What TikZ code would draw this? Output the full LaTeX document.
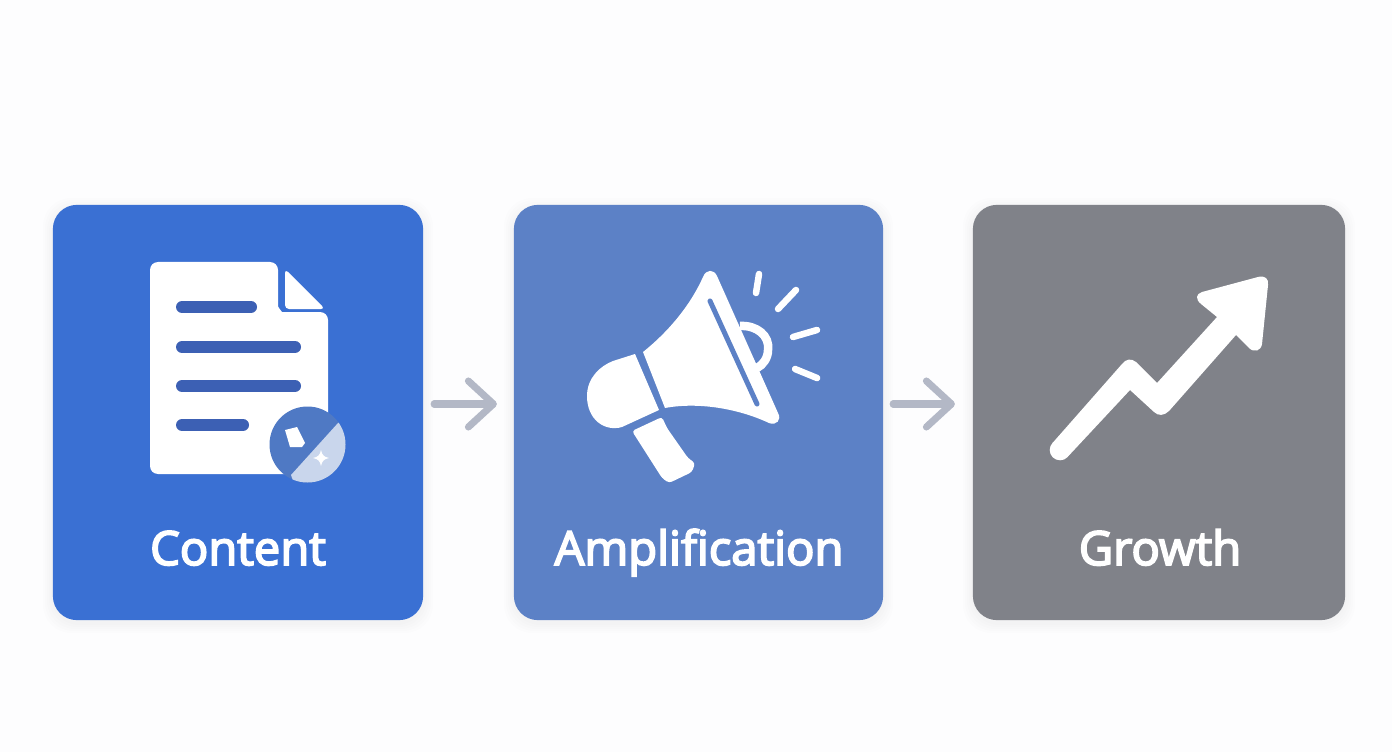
\documentclass[tikz,border=0pt]{standalone}
\usepackage{fontspec}
\setmainfont{Liberation Sans}
\newfontfamily\labelfont{Open Sans}
\newcommand{\heavytext}[1]{\special{pdf:code q 1 1 1 RG 0.5 w 2 Tr}#1\special{pdf:code Q}}
\usetikzlibrary{arrows.meta}
\definecolor{pagebg}{HTML}{FDFDFE}
\definecolor{cardA}{HTML}{3A70D3}
\definecolor{cardB}{HTML}{5C81C6}
\definecolor{cardC}{HTML}{808289}
\definecolor{lineblue}{HTML}{3C60B4}
\definecolor{badgeblue}{HTML}{4F79C4}
\definecolor{badgelight}{HTML}{C9D6EC}
\definecolor{flowgrey}{HTML}{B3B8C6}
\tikzset{
  card/.style={rounded corners=0.24cm,inner sep=0,outer sep=0,minimum height=4.15cm},
  cardlabel/.style={text=white,font=\fontsize{13.4}{16}\labelfont,inner sep=0,anchor=base},
  textline/.style={line width=0.12cm,line cap=round,draw=lineblue},
  ray/.style={line width=0.065cm,line cap=round,draw=white},
  flow/.style={line width=0.07cm,line cap=round,draw=flowgrey,-{Straight Barb[length=0.25cm,width=0.46cm,round]}},
  halo/.style={rounded corners=0.28cm,fill=black,fill opacity=0.006}
}
\begin{document}
\begin{tikzpicture}[x=0.01cm,y=-0.01cm]
\useasboundingbox (0,0) rectangle (1392,752);
\fill[pagebg] (0,0) rectangle (1392,752);
% soft shadows
\foreach \a/\b in {53/423,514/883,973/1345}{
  \foreach \g in {2,4,6,8,10}{
    \fill[halo] (\a-\g,205-\g+3) rectangle (\b+\g,620+\g+3);
  }
}
% cards
\node[card,fill=cardA,minimum width=3.70cm] (c1) at (238,412.5) {};
\node[card,fill=cardB,minimum width=3.69cm] (c2) at (698.5,412.5) {};
\node[card,fill=cardC,minimum width=3.72cm] (c3) at (1159,412.5) {};
% labels
\node[cardlabel] (l1) at (238,565) {\heavytext{Content}};
\node[cardlabel] (l2) at (699,565) {\heavytext{Amplification}};
\node[cardlabel] (l3) at (1160,565) {\heavytext{Growth}};
% connectors
\draw[flow] ([shift={(11,-8.5)}]c1.east) -- ([shift={(-17,-8.5)}]c2.west);
\draw[flow] ([shift={(10,-8.5)}]c2.east) -- ([shift={(-18,-8.5)}]c3.west);
% document icon
\fill[white,rounded corners=0.08cm] (150,262) -- (278,262) -- (278,298)
  .. controls (278,307) and (282,312) .. (290,312) -- (328,312) -- (328,474) -- (150,474) -- cycle;
\fill[white,rounded corners=0.04cm] (285,269) -- (325,309) -- (285,309) -- cycle;
\draw[textline] (182,307) -- (251,307);
\draw[textline] (182,347) -- (295,347);
\draw[textline] (182,386) -- (295,386);
\draw[textline] (182,425) -- (243,425);
% badge
\fill[badgeblue] (307.5,444.5) circle[radius=38];
\begin{scope}
  \clip (307.5,444.5) circle[radius=38];
  \fill[badgelight] (338,423) -- (291,475) -- (300,500) -- (370,500) -- (370,410) -- cycle;
\end{scope}
\fill[white] (285,430) -- (297,427) -- (305,443) -- (302,447) -- (290,447) -- cycle;
\fill[white] (321,450) .. controls (322,455) and (324,457) .. (329,458)
  .. controls (324,459) and (322,461) .. (321,466)
  .. controls (320,461) and (318,459) .. (313,458)
  .. controls (318,457) and (320,455) .. (321,450) -- cycle;
% megaphone
\draw[line width=0.085cm,draw=white] (740,326) .. controls (757,325) and (770,336) .. (768,350)
  .. controls (768,358) and (763,365) .. (757,368);
\fill[white] (703,277) .. controls (690,306) and (668,332) .. (643,352)
  -- (665,408) .. controls (697,402) and (737,408) .. (769,423)
  .. controls (776,426) and (782,420) .. (778,413) -- (717,276)
  .. controls (714,269) and (706,269) .. (703,277) -- cycle;
\draw[line width=0.05cm,line cap=round,draw=cardB] (710,301) -- (757,404);
\fill[white] (635,354) -- (659,410) -- (622,427) .. controls (605,432) and (587,420) .. (587,396)
  .. controls (587,378) and (600,366) .. (613,361) -- cycle;
\fill[white,rounded corners=0.03cm] (632,431) -- (662,417) -- (667,428) -- (688,458) -- (695,463) -- (692,472) -- (669,483) -- (662,478) -- cycle;
\draw[ray] (759,274) -- (756,293);
\draw[ray] (796,290) -- (778,309);
\draw[ray] (817,330) -- (793,337);
\draw[ray] (795,369) -- (817,378);
% growth arrow
\fill[white] (1060,450) circle[radius=10.3];
\fill[white] (1052.5,443) -- (1122,364) .. controls (1126,359) and (1131,358) .. (1136,362)
  -- (1157,383) -- (1217,317) -- (1201,304) .. controls (1195,299) and (1196,294) .. (1202,292)
  -- (1258,277) .. controls (1265,275) and (1269,279) .. (1268,285)
  -- (1262,344) .. controls (1261,351) and (1254,353) .. (1249,348)
  -- (1236,335) -- (1169,411) .. controls (1164,416) and (1158,416) .. (1154,412)
  -- (1130,390) -- (1067.5,457) -- cycle;
\end{tikzpicture}
\end{document}
